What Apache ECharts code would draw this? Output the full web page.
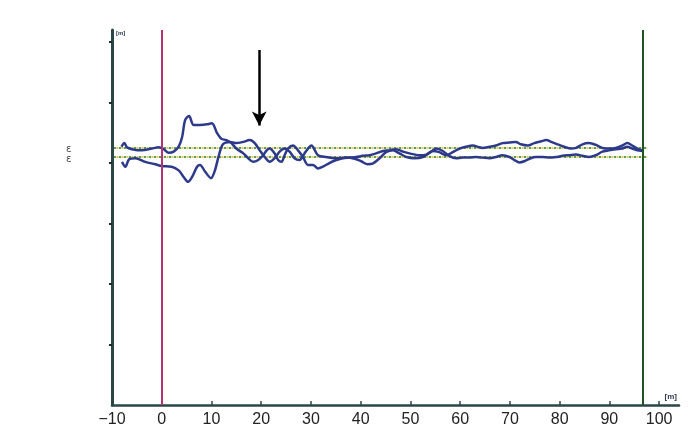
<!DOCTYPE html>
<html>
<head>
<meta charset="utf-8">
<script src="https://cdn.jsdelivr.net/npm/echarts@6/dist/echarts.min.js"></script>
<style>
    html, body { margin: 0; padding: 0; background: #fff; }
    #chart { width: 700px; height: 443px; }
</style>
</head>
<body>
<div id="chart"></div>
<script>
// x in [m], y (10 per y tick)
var curveA = [
    [-8.1, 42.7], [-7.5, 43.3], [-7.0, 42.6], [-6.0, 42.3], [-4.0, 42.1], [-2.0, 42.4], [-0.6, 42.6],
    [0.4, 42.3], [1.4, 41.7], [2.4, 41.9], [3.4, 42.7], [4.1, 44.3], [4.7, 47.1], [5.5, 47.8],
    [6.4, 46.3], [7.7, 46.3], [9.1, 46.4], [10.1, 46.6], [11.1, 45.0], [12.0, 44.0], [13.0, 43.8],
    [14.0, 43.3], [15.0, 42.4], [16.4, 41.6], [17.4, 40.8], [18.4, 40.2], [19.4, 40.5], [20.4, 41.3],
    [21.1, 42.1], [21.7, 42.4], [22.7, 41.6], [23.4, 40.5], [24.1, 40.2], [24.7, 41.3], [25.4, 42.4],
    [26.4, 42.9], [27.4, 42.1], [28.4, 41.0], [29.4, 39.7], [30.4, 39.7], [31.4, 39.1], [32.4, 39.4],
    [33.7, 40.0], [35.1, 40.5], [36.4, 40.8], [37.8, 40.9], [39.1, 41.0], [40.4, 41.2], [41.8, 41.3],
    [43.1, 41.6], [44.5, 42.0], [45.8, 42.1], [47.1, 42.3], [48.5, 41.9], [49.8, 41.6], [51.8, 41.3],
    [53.2, 41.4], [54.5, 42.0], [55.8, 41.8], [57.2, 41.3], [58.5, 41.8], [59.9, 42.4], [61.2, 42.7],
    [62.5, 42.9], [63.9, 42.6], [64.5, 42.5], [65.9, 42.7], [67.2, 42.9], [68.5, 43.3], [69.9, 43.4],
    [71.2, 43.5], [72.2, 43.1], [73.6, 42.9], [74.9, 43.3], [76.3, 43.6], [77.3, 43.8], [78.3, 43.5],
    [79.6, 43.1], [80.9, 42.7], [82.3, 42.4], [83.3, 42.5], [84.6, 43.1], [85.9, 43.3], [87.3, 43.0],
    [88.6, 42.5], [89.9, 42.4], [91.3, 42.5], [92.6, 42.9], [93.6, 43.3], [94.6, 42.9], [95.6, 42.4],
    [96.6, 42.1]
];

var curveB = [
    [-8.0, 40.2], [-7.3, 39.4], [-6.6, 40.6], [-5.3, 40.8], [-3.3, 40.2], [-1.3, 39.8], [0.0, 39.5],
    [2.0, 39.4], [3.4, 38.8], [4.4, 37.7], [5.3, 36.9], [6.1, 37.7], [7.1, 39.4], [7.7, 39.7],
    [8.7, 38.6], [9.9, 37.5], [10.7, 38.8], [11.4, 41.0], [12.3, 43.1], [13.7, 43.5], [15.0, 43.3],
    [16.4, 43.5], [17.7, 43.8], [18.7, 43.3], [19.7, 42.1], [20.7, 41.0], [21.7, 40.2], [22.7, 40.8],
    [23.7, 41.9], [24.7, 42.4], [25.7, 41.9], [26.7, 40.8], [27.7, 40.5], [28.7, 41.6], [29.7, 42.7],
    [30.1, 42.9], [31.4, 41.3], [33.1, 41.0], [35.1, 40.8], [37.1, 40.9], [38.8, 40.7], [40.1, 40.3],
    [41.4, 39.8], [42.4, 39.9], [43.8, 40.8], [45.1, 41.8], [46.5, 42.1], [47.8, 41.6], [49.2, 41.0],
    [50.8, 40.8], [52.5, 41.0], [54.2, 41.9], [55.2, 42.4], [56.5, 42.0], [57.8, 41.2], [59.2, 40.8],
    [60.5, 40.9], [61.9, 40.9], [63.2, 41.0], [64.5, 40.9], [65.9, 40.8], [67.2, 41.0], [68.5, 41.3],
    [69.9, 41.0], [70.9, 40.5], [71.9, 40.1], [72.9, 40.3], [74.2, 40.8], [75.2, 41.0], [76.6, 41.0],
    [77.9, 40.9], [79.3, 41.0], [80.6, 41.2], [81.9, 41.3], [83.3, 41.4], [84.6, 41.2], [85.9, 41.0],
    [87.3, 41.3], [88.6, 41.9], [89.9, 42.1], [91.3, 42.3], [92.6, 42.4], [93.6, 42.7], [94.6, 42.4],
    [95.6, 42.1], [96.6, 42.0]
];

// dotted reference levels
var refUpper = [[-9.6, 42.5], [97.6, 42.5]];
var refLower = [[-9.6, 41.0], [97.6, 41.0]];

// vertical markers: start (magenta) and end (green)
var startX = 0;
var endX = 96.7;
// arrow from / to
var arrowFrom = [19.6, 58.7];
var arrowTo = [19.6, 46.2];

var xTicks = [-10, 0, 10, 20, 30, 40, 50, 60, 70, 80, 90, 100];
var yTicks = [10, 20, 30, 40, 50, 60];

var axisColor = '#2a4646';
var curveColor = '#2d3a8c';

var chart = echarts.init(document.getElementById('chart'));

function refSeries(data, color, offset) {
    return {
        type: 'line',
        data: data,
        showSymbol: false,
        silent: true,
        lineStyle: { color: color, width: 2, type: [2, 3], dashOffset: offset }
    };
}

var option = {
    animation: false,
    backgroundColor: '#fff',
    grid: { left: 112, right: 21, top: 30, bottom: 38 },
    xAxis: {
        type: 'value',
        min: -10,
        max: 104,
        name: '[m]',
        nameLocation: 'end',
        nameGap: -2,
        nameTextStyle: {
            fontSize: 8, fontWeight: 'bold', color: '#2a3a50',
            align: 'right', verticalAlign: 'bottom', padding: [0, 0, 4, 0]
        },
        axisLine: { onZero: false, lineStyle: { color: axisColor, width: 2.5 } },
        axisTick: { inside: true, length: 4, customValues: xTicks, lineStyle: { color: axisColor, width: 1.5 } },
        axisLabel: {
            customValues: xTicks,
            margin: 7,
            fontSize: 16,
            color: '#222',
            fontFamily: 'Liberation Sans, Arial, sans-serif',
            formatter: function (v) { return String(v).replace('-', '\u2212'); }
        },
        splitLine: { show: false }
    },
    yAxis: {
        type: 'value',
        min: 0,
        max: 62,
        name: '[m]',
        nameLocation: 'end',
        nameGap: 0,
        nameTextStyle: {
            fontSize: 6, fontWeight: 'bold', color: '#2a3a50',
            align: 'left', verticalAlign: 'top', padding: [0, 0, 0, 4]
        },
        axisLine: { show: true, onZero: false, lineStyle: { color: axisColor, width: 3 } },
        axisTick: { show: true, length: 3, customValues: yTicks, lineStyle: { color: '#1a2a2a', width: 2 } },
        axisLabel: { show: false },
        splitLine: { show: false }
    },
    graphic: [{
        type: 'text',
        left: 66,
        top: 144,
        style: { text: 'ε\nε', fontSize: 10, lineHeight: 10, fill: '#444', fontFamily: 'DejaVu Sans' }
    }],
    series: [
        refSeries(refUpper, '#5f9e4e', 0),
        refSeries(refUpper, '#d9cc5a', 2.5),
        refSeries(refLower, '#5f9e4e', 0),
        refSeries(refLower, '#d9cc5a', 2.5),
        {
            type: 'line',
            data: curveA,
            showSymbol: false,
            smooth: 0.3,
            lineStyle: { color: curveColor, width: 2.5 },
            markLine: {
                silent: true,
                symbol: 'none',
                label: { show: false },
                data: [
                    { xAxis: startX, lineStyle: { color: '#b23476', width: 2, type: 'solid' } },
                    { xAxis: endX, lineStyle: { color: '#1f5324', width: 2, type: 'solid' } },
                    [
                        { coord: arrowFrom, symbol: 'none' },
                        { coord: arrowTo, symbol: 'arrow', symbolSize: [11, 14] }
                    ]
                ],
                lineStyle: { color: '#000', width: 2.5, type: 'solid' }
            }
        },
        {
            type: 'line',
            data: curveB,
            showSymbol: false,
            smooth: 0.3,
            lineStyle: { color: curveColor, width: 2.5 }
        }
    ]
};

chart.setOption(option);
</script>
</body>
</html>
